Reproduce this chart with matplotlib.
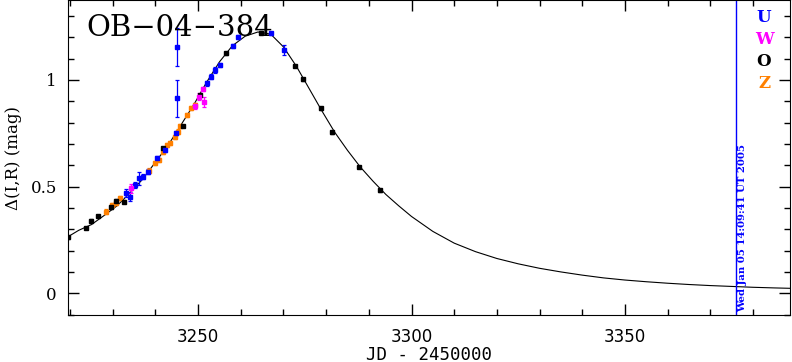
import matplotlib
matplotlib.use("Agg")
import matplotlib.pyplot as plt
from matplotlib.ticker import MultipleLocator

# model curve (JD-2450000, delta mag)
model_t = [3219.5, 3222, 3225, 3228, 3231, 3234, 3237, 3240, 3243, 3246, 3249,
           3252, 3255, 3258, 3261, 3264, 3267, 3270, 3273, 3276, 3279, 3282,
           3285, 3288, 3291, 3294, 3297, 3300, 3305, 3310, 3315, 3320, 3325,
           3330, 3335, 3340, 3345, 3350, 3355, 3360, 3365, 3370, 3375, 3380,
           3385, 3389]
model_d = [0.265, 0.295, 0.322, 0.365, 0.41, 0.47, 0.535, 0.615, 0.695, 0.79, 0.885,
           0.99, 1.085, 1.16, 1.205, 1.225, 1.215, 1.155, 1.065, 0.96, 0.855, 0.755,
           0.67, 0.592, 0.525, 0.463, 0.41, 0.36, 0.29, 0.235, 0.195, 0.163, 0.138,
           0.117, 0.10, 0.085, 0.072, 0.062, 0.054, 0.047, 0.041, 0.036, 0.032, 0.028,
           0.025, 0.023]

# U (blue)
U_t = [3233.2, 3234.0, 3235.2, 3236.2, 3237.1, 3238.3, 3240.3, 3242.2, 3244.9,
       3245.1, 3245.1, 3252.1, 3253.0, 3253.9, 3255.1, 3258.1, 3259.4, 3267.0, 3270.1]
U_d = [0.469, 0.453, 0.508, 0.539, 0.547, 0.57, 0.633, 0.672, 0.75,
       1.155, 0.914, 0.985, 1.016, 1.047, 1.07, 1.161, 1.2, 1.219, 1.14]
U_e = [0.02, 0.02, 0.015, 0.03, 0.01, 0.012, 0.012, 0.01, 0.01,
       0.091, 0.086, 0.012, 0.012, 0.012, 0.01, 0.01, 0.01, 0.008, 0.025]

# W (magenta)
W_t = [3234.2, 3249.2, 3250.2, 3251.2, 3251.3]
W_d = [0.492, 0.878, 0.922, 0.956, 0.898]
W_e = [0.02, 0.012, 0.015, 0.01, 0.023]

# O (black)
O_t = [3219.5, 3223.8, 3224.8, 3226.6, 3229.5, 3230.7, 3232.6, 3241.8, 3246.5,
       3250.4, 3256.6, 3264.8, 3272.7, 3274.6, 3278.7, 3281.4, 3287.6, 3292.6]
O_d = [0.262, 0.305, 0.34, 0.362, 0.403, 0.434, 0.43, 0.68, 0.784,
       0.93, 1.125, 1.222, 1.066, 1.003, 0.867, 0.755, 0.592, 0.483]
O_e = [0.006] * len(O_t)

# Z (orange)
Z_t = [3228.5, 3229.7, 3230.7, 3231.8, 3238.5, 3239.9, 3240.9, 3241.8, 3242.7,
       3243.4, 3244.5, 3245.3, 3245.7, 3247.3, 3248.4, 3249.2]
Z_d = [0.383, 0.414, 0.422, 0.445, 0.575, 0.609, 0.625, 0.664, 0.695,
       0.703, 0.734, 0.758, 0.784, 0.836, 0.867, 0.883]
Z_e = [0.01] * len(Z_t)

now_t = 3376.09
now_label = "Wed Jan 05 14:09:41 UT 2005"

fig = plt.figure(figsize=(7.92, 3.62), dpi=100)
ax = fig.add_axes([68 / 792, 47 / 362, 722 / 792, 315 / 362])

ax.plot(model_t, model_d, color="black", lw=0.8, zorder=2)

for t, d, e, c in [(Z_t, Z_d, Z_e, "#ff8000"), (O_t, O_d, O_e, "black"),
                   (U_t, U_d, U_e, "#0000ff"), (W_t, W_d, W_e, "#ff00ff")]:
    ax.errorbar(t, d, yerr=e, fmt="s", ms=2.4, color=c, ecolor=c,
                elinewidth=0.9, capsize=1.6, capthick=0.9, zorder=3)

ax.axvline(now_t, color="#0000ff", lw=1)
ax.text(now_t + 1.6, -0.088, now_label, rotation=90, color="#0000ff",
        fontsize=7.3, family="DejaVu Serif", fontweight="bold",
        ha="center", va="bottom")

ax.set_xlim(3219.5, 3388.7)
ax.set_ylim(-0.102, 1.375)

ax.xaxis.set_major_locator(MultipleLocator(50))
ax.xaxis.set_minor_locator(MultipleLocator(10))
ax.yaxis.set_major_locator(MultipleLocator(0.5))
ax.yaxis.set_minor_locator(MultipleLocator(0.1))
ax.yaxis.set_major_formatter(plt.FuncFormatter(lambda v, p: f"{v:g}"))
ax.tick_params(which="both", direction="in", top=True, right=True, width=1)
ax.tick_params(which="major", length=8)
ax.tick_params(which="minor", length=4)
ax.tick_params(axis="x", pad=9, labelsize=12)
ax.tick_params(axis="y", pad=8, labelsize=12)
for lab in ax.get_xticklabels():
    lab.set_family("DejaVu Sans")
for lab in ax.get_yticklabels():
    lab.set_family("DejaVu Serif")

ax.set_xlabel("JD - 2450000", family="DejaVu Sans Mono", fontsize=12.5, labelpad=0)
ax.set_ylabel("\u0394(I,R) (mag)", family="DejaVu Serif", fontsize=12, labelpad=6)

ax.text(0.026, 0.955, "OB\u221204\u2212384", transform=ax.transAxes,
        family="DejaVu Serif", fontsize=21, va="top", ha="left")

for i, (s, c) in enumerate([("U", "#0000ff"), ("W", "#ff00ff"),
                            ("O", "black"), ("Z", "#ff8000")]):
    ax.text(0.964, 0.945 - i * 0.07, s, color=c, transform=ax.transAxes,
            family="DejaVu Serif", fontweight="bold", fontsize=12,
            ha="center", va="center")

fig.savefig("out.png", dpi=100)
